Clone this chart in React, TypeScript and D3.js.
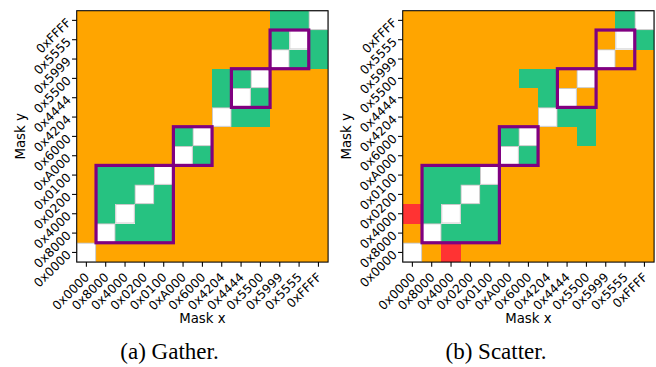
import React from 'react';
import * as d3 from 'd3';

// Mask values on both axes, bottom/left to top/right
const maskLabels = [
  '0x0000', '0x8000', '0x4000', '0x0200', '0x0100', '0xA000', '0x6000',
  '0x4204', '0x4444', '0x5500', '0x5999', '0x5555', '0xFFFF',
];

// Cell classes per Mask y row (from 0x0000 up), one char per Mask x column.
// W = identical mask, G = compatible, O = incompatible, R = error
const gatherRows = [
  'WOOOOOOOOOOOO',
  'OWGGGOOOOOOOO',
  'OGWGGOOOOOOOO',
  'OGGWGOOOOOOOO',
  'OGGGWOOOOOOOO',
  'OOOOOWGOOOOOO',
  'OOOOOGWOOOOOO',
  'OOOOOOOWGGOOO',
  'OOOOOOOGWGOOO',
  'OOOOOOOGGWOOO',
  'OOOOOOOOOOWGG',
  'OOOOOOOOOOGWG',
  'OOOOOOOOOOGGW',
];

const scatterRows = [
  'WOROOOOOOOOOO',
  'OWGGGOOOOOOOO',
  'RGWGGOOOOOOOO',
  'OGGWGOOOOOOOO',
  'OGGGWOOOOOOOO',
  'OOOOOWGOOOOOO',
  'OOOOOGWOOGOOO',
  'OOOOOOOWGGOOO',
  'OOOOOOOGWOOOO',
  'OOOOOOGGOWOOO',
  'OOOOOOOOOOWOO',
  'OOOOOOOOOOOWG',
  'OOOOOOOOOOOGW',
];

// Highlighted mask groups, [first, last] index along both axes
const groupBlocks: [number, number][] = [[1, 4], [5, 6], [8, 9], [10, 11]];

const classColor: Record<string, string> = {
  W: '#ffffff',
  G: '#26c281',
  O: '#ffa500',
  R: '#ff3333',
};

const W = 656;
const H = 367;
const TOP = 10.7;
const SIZE = 251.4;
const TICK = 4.67;
const FONT = 'DejaVu Sans, sans-serif';
const TICK_FONT = 12.2;

type PanelProps = {
  rows: string[];
  x0: number;
  caption: string;
  captionX: number;
};

function Panel({ rows, x0, caption, captionX }: PanelProps) {
  const x = d3.scaleBand<string>().domain(maskLabels).range([x0, x0 + SIZE]);
  const y = d3.scaleBand<string>().domain(maskLabels).range([TOP + SIZE, TOP]);
  const bw = x.bandwidth();
  const bh = y.bandwidth();
  const bottom = TOP + SIZE;

  const cells: { xi: string; yi: string; c: string }[] = [];
  rows.forEach((row, ri) => {
    row.split('').forEach((c, ci) => {
      cells.push({ xi: maskLabels[ci], yi: maskLabels[ri], c });
    });
  });

  return (
    <g>
      {cells.map((d, i) => (
        <rect
          key={`c${i}`}
          x={x(d.xi)!}
          y={y(d.yi)!}
          width={bw + 0.3}
          height={bh + 0.3}
          fill={classColor[d.c]}
          shapeRendering="crispEdges"
        />
      ))}
      {cells
        .filter((d) => d.c === 'W')
        .map((d, i) => (
          <rect
            key={`w${i}`}
            x={x(d.xi)! + 0.4}
            y={y(d.yi)! + 0.4}
            width={bw - 0.8}
            height={bh - 0.8}
            fill="none"
            stroke="#c4c4c4"
            strokeWidth={0.9}
          />
        ))}
      {groupBlocks.map(([s, e], i) => {
        const bx = x(maskLabels[s])!;
        const by = y(maskLabels[e])!;
        const bx2 = x(maskLabels[e])! + bw;
        const by2 = y(maskLabels[s])! + bh;
        return (
          <rect
            key={`b${i}`}
            x={bx}
            y={by}
            width={bx2 - bx}
            height={by2 - by}
            fill="none"
            stroke="#800080"
            strokeWidth={3.2}
          />
        );
      })}
      <rect x={x0} y={TOP} width={SIZE} height={SIZE} fill="none" stroke="#000" strokeWidth={1.07} />
      {maskLabels.map((m) => {
        const cx = x(m)! + bw / 2;
        return (
          <g key={`xt${m}`}>
            <line x1={cx} x2={cx} y1={bottom} y2={bottom + TICK} stroke="#000" strokeWidth={1.07} />
            <text
              transform={`translate(${cx - 2.5},${bottom + 9.8}) rotate(-45)`}
              textAnchor="end"
              dy="0.72em"
              fontFamily={FONT}
              fontSize={TICK_FONT}
              fill="#000"
            >
              {m}
            </text>
          </g>
        );
      })}
      {maskLabels.map((m) => {
        const cy = y(m)! + bh / 2;
        return (
          <g key={`yt${m}`}>
            <line x1={x0} x2={x0 - TICK} y1={cy} y2={cy} stroke="#000" strokeWidth={1.07} />
            <text
              transform={`translate(${x0 - 8.2},${cy}) rotate(-45)`}
              textAnchor="end"
              dy="0.36em"
              fontFamily={FONT}
              fontSize={TICK_FONT}
              fill="#000"
            >
              {m}
            </text>
          </g>
        );
      })}
      <text x={x0 + SIZE / 2} y={322.6} textAnchor="middle" fontFamily={FONT} fontSize={13.3} fill="#000">
        Mask x
      </text>
      <text
        transform={`translate(${x0 - 51.5},${TOP + SIZE / 2}) rotate(-90)`}
        textAnchor="middle"
        fontFamily={FONT}
        fontSize={13.3}
        fill="#000"
      >
        Mask y
      </text>
      <text
        x={captionX}
        y={359}
        textAnchor="middle"
        fontFamily="Liberation Serif, Times New Roman, serif"
        fontSize={23}
        fill="#000"
      >
        {caption}
      </text>
    </g>
  );
}

export default function App() {
  return (
    <svg
      width={W}
      height={H}
      viewBox={`0 0 ${W} ${H}`}
      style={{ position: 'absolute', left: 0, top: 0, background: '#fff' }}
    >
      <rect width={W} height={H} fill="#fff" />
      <Panel rows={gatherRows} x0={76.7} caption="(a) Gather." captionX={169.5} />
      <Panel rows={scatterRows} x0={402.7} caption="(b) Scatter." captionX={496} />
    </svg>
  );
}
